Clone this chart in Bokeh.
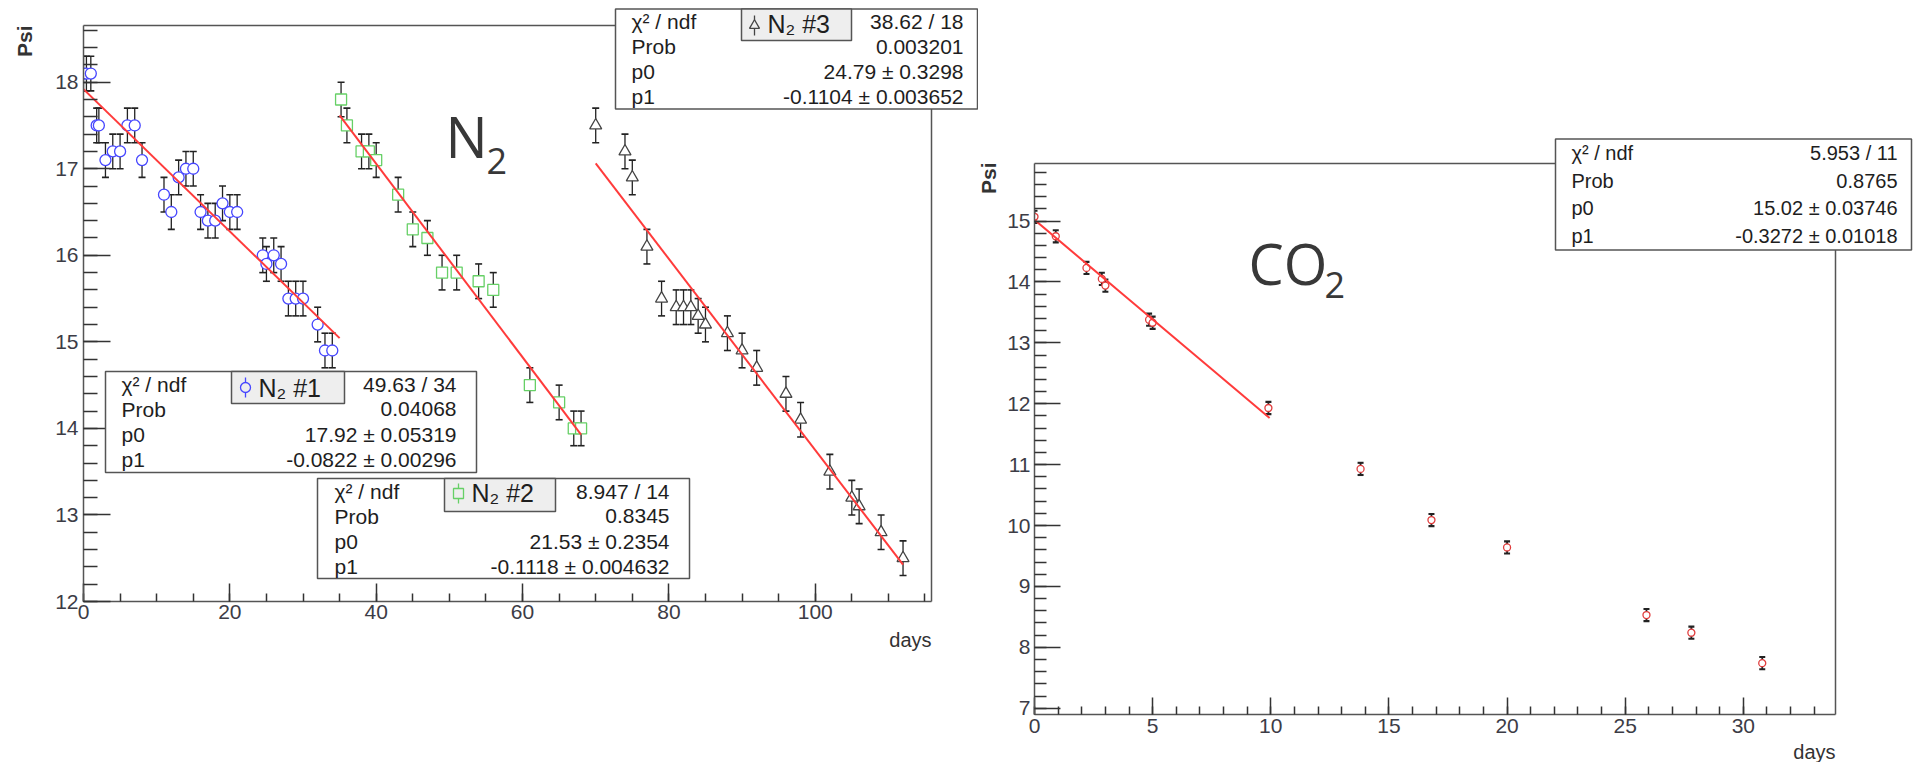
from math import pi
import numpy as np
from bokeh.plotting import figure
from bokeh.models import Range1d, FixedTicker, LinearAxis, ColumnDataSource
from bokeh.core.properties import value
from bokeh.layouts import row
from bokeh.embed import file_html
from bokeh.resources import INLINE

# ---------------- data ----------------
n2_1_days = [0, 0.4, 1, 1.8, 2.1, 3, 4, 5, 6, 7, 8, 11, 12, 13, 14, 15, 16, 17, 18,
             19, 20, 21, 24.5, 25, 26, 27, 28, 29, 30, 32, 33, 34]
n2_1_psi = [18.1, 18.1, 18.1, 17.5, 17.5, 17.1, 17.2, 17.2, 17.5, 17.5, 17.1, 16.7,
            16.5, 16.9, 17.0, 17.0, 16.5, 16.4, 16.4, 16.6, 16.5, 16.5, 16.0, 15.9,
            16.0, 15.9, 15.5, 15.5, 15.5, 15.2, 14.9, 14.9]
n2_2_days = [35.2, 36, 38, 39, 40, 43, 45, 47, 49, 51, 54, 56, 61, 65, 67, 68]
n2_2_psi = [17.8, 17.5, 17.2, 17.2, 17.1, 16.7, 16.3, 16.2, 15.8, 15.8, 15.7, 15.6,
            14.5, 14.3, 14.0, 14.0]
n2_3_days = [70, 74, 75, 77, 79, 81, 82, 83, 84, 85, 88, 90, 92, 96, 98, 102, 105,
             106, 109, 112]
n2_3_psi = [17.5, 17.2, 16.9, 16.1, 15.5, 15.4, 15.4, 15.4, 15.3, 15.2, 15.1, 14.9,
            14.7, 14.4, 14.1, 13.5, 13.2, 13.1, 12.8, 12.5]
n2_err = 0.2

co2_days = [0, 0.9, 2.2, 2.85, 3.0, 4.85, 5.0, 9.9, 13.8, 16.8, 20.0, 25.9, 27.8, 30.8]
co2_psi = [15.07, 14.75, 14.23, 14.05, 13.94, 13.38, 13.33, 11.93, 10.93, 10.09, 9.64,
           8.53, 8.24, 7.74]
co2_err = 0.1

# fits: (p0, p1, x_from, x_to)
fit_n2_1 = (17.92, -0.0822, 0.0, 35.0)
fit_n2_2 = (21.53, -0.1118, 35.0, 68.0)
fit_n2_3 = (24.79, -0.1104, 70.0, 112.0)
fit_co2 = (15.02, -0.3272, 0.0, 9.95)

stat_names = ["\u03c7\u00b2 / ndf", "Prob", "p0", "p1"]
stats_n2_1 = ["49.63 / 34", "0.04068", "17.92 \u00b1 0.05319", "-0.0822 \u00b1 0.00296"]
stats_n2_2 = ["8.947 / 14", "0.8345", "21.53 \u00b1 0.2354", "-0.1118 \u00b1 0.004632"]
stats_n2_3 = ["38.62 / 18", "0.003201", "24.79 \u00b1 0.3298", "-0.1104 \u00b1 0.003652"]
stats_co2 = ["5.953 / 11", "0.8765", "15.02 \u00b1 0.03746", "-0.3272 \u00b1 0.01018"]

left_xticks = [0, 20, 40, 60, 80, 100]
left_yticks = [12, 13, 14, 15, 16, 17, 18]
right_xticks = [0, 5, 10, 15, 20, 25, 30]
right_yticks = [7, 8, 9, 10, 11, 12, 13, 14, 15]

# ---------------- geometry ----------------
FONT = "Liberation Sans"
TXT = "#1e1e1e"
TICKLBL = "#3c3c46"
FRAME = "#555555"
H = 762
SPLIT = 978

# left plot frame (page px): left 83, right 931, top 25, bottom 601
XL1 = 115.89
YL0, YL1 = 12.0, 18.655
# right plot frame: left 1034, right 1835, top 163, bottom 714
XR1 = 33.9
YR0, YR1 = 6.897, 15.945


def lx(X):
    return (X - 83) * XL1 / 848.0


def ly(Y):
    return YL0 + (601 - Y) * (YL1 - YL0) / 576.0


def rx(X):
    return (X - 1034) * XR1 / 801.0


def ry(Y):
    return YR0 + (714 - Y) * (YR1 - YR0) / 551.0


def make_fig(width, mbl, mbr, mbt, mbb, xr, yr):
    p = figure(width=width, height=H, output_backend="svg", toolbar_location=None,
               tools="", x_range=Range1d(*xr), y_range=Range1d(*yr),
               min_border_left=mbl, min_border_right=mbr, min_border_top=mbt,
               min_border_bottom=mbb, frame_align=False)
    p.xgrid.visible = False
    p.ygrid.visible = False
    p.outline_line_color = None
    p.background_fill_color = "white"
    p.border_fill_color = "white"
    return p


def style_axis(ax, ticks, minor, tin, mtin, standoff):
    ax.ticker = FixedTicker(ticks=ticks, minor_ticks=minor)
    ax.major_tick_in = tin
    ax.major_tick_out = 0
    ax.minor_tick_in = mtin
    ax.minor_tick_out = 0
    ax.major_tick_line_color = "#333333"
    ax.major_tick_line_width = 1.5
    ax.minor_tick_line_color = "#333333"
    ax.minor_tick_line_width = 1.5
    ax.axis_line_color = FRAME
    ax.axis_line_width = 1.5
    ax.major_label_text_font = FONT
    ax.major_label_text_font_size = "21px"
    ax.major_label_text_color = TICKLBL
    ax.major_label_standoff = standoff


def frame_axes(p):
    for loc in ("above", "right"):
        ax = LinearAxis(ticker=FixedTicker(ticks=[]), major_label_text_font_size="0px",
                        major_tick_line_color=None, minor_tick_line_color=None,
                        axis_line_color=FRAME, axis_line_width=1.5,
                        major_label_standoff=0, major_tick_in=0, major_tick_out=0,
                        minor_tick_in=0, minor_tick_out=0)
        p.add_layout(ax, loc)


def series(p, days, psi, err, marker, color, size, cap, bar_w=1.3):
    src = ColumnDataSource(dict(x=days, y=psi,
                                lo=[v - err for v in psi], hi=[v + err for v in psi]))
    p.segment(x0="x", y0="lo", x1="x", y1="hi", source=src, line_color="#222222",
              line_width=bar_w)
    p.scatter("x", "lo", marker="dash", size=cap, source=src, line_color="#222222",
              line_width=bar_w + 0.3)
    p.scatter("x", "hi", marker="dash", size=cap, source=src, line_color="#222222",
              line_width=bar_w + 0.3)
    p.scatter("x", "y", marker=marker, size=size, source=src, line_color=color,
              fill_color="white", line_width=1.3)


def fit_line(p, fit):
    p0, p1, a, b = fit
    p.line([a, b], [p0 + p1 * a, p0 + p1 * b], line_color="#ff3b3b", line_width=2)


def label(p, x, y, text, size, align="left", baseline="middle", font=FONT,
          color=TXT, angle=0.0, style="normal"):
    p.text(x=[x], y=[y], text=[text], text_font=value(font), text_font_size=size,
           text_align=align, text_baseline=baseline, text_color=color, angle=angle,
           text_font_style=style, level="overlay")


def box(p, fx, fy, L, T, R, B, fill):
    p.quad(left=[fx(L)], right=[fx(R)], top=[fy(T)], bottom=[fy(B)], fill_color=fill,
           line_color=FRAME, line_width=1.5, level="overlay")


def stats_box(p, fx, fy, L, T, R, B, values, size, lab_x, val_x):
    box(p, fx, fy, L, T, R, B, "white")
    h = (B - T) / 4.0
    for i, (name, val) in enumerate(zip(stat_names, values)):
        yc = T + h * (i + 0.5)
        label(p, fx(lab_x), fy(yc), name, size)
        label(p, fx(val_x), fy(yc), val, size, align="right")


def title_box(p, fx, fy, L, T, R, B, text, tx, ty, mx, my, marker, color):
    box(p, fx, fy, L, T, R, B, "#eeeeee")
    label(p, fx(tx), fy(ty), text, "25px")
    p.segment(x0=[fx(mx)], y0=[fy(my - 10)], x1=[fx(mx)], y1=[fy(my + 10)],
              line_color=color, line_width=1.3, level="overlay")
    p.scatter(x=[fx(mx)], y=[fy(my)], marker=marker, size=10, line_color=color,
              fill_color="#eeeeee", line_width=1.3, level="overlay")


# ---------------- left figure (N2) ----------------
pl = make_fig(SPLIT, 83, SPLIT - 931, 25, H - 601, (0, XL1), (YL0, YL1))
style_axis(pl.below[0], left_xticks, list(range(0, 116, 5)), 18, 8, 3)
style_axis(pl.left[0], left_yticks, [round(v, 1) for v in np.arange(12, 18.7, 0.2)],
           27, 14, 5)
frame_axes(pl)

series(pl, n2_1_days, n2_1_psi, n2_err, "circle", "#4646ff", 11, 7)
series(pl, n2_2_days, n2_2_psi, n2_err, "square", "#66d066", 11, 7)
series(pl, n2_3_days, n2_3_psi, n2_err, "triangle", "#444444", 12, 7)
fit_line(pl, fit_n2_1)
fit_line(pl, fit_n2_2)
fit_line(pl, fit_n2_3)

label(pl, lx(24), ly(25), "Psi", "21px", align="right", color="#333333", angle=pi / 2,
      style="bold")
label(pl, lx(931), ly(639), "days", "20px", align="right", color="#333333")
label(pl, lx(445), ly(135), "N", "56px", font="Open Sans", color="#383838")
label(pl, lx(486), ly(160), "2", "36px", font="Open Sans", color="#383838")

stats_box(pl, lx, ly, 105, 371, 476, 472, stats_n2_1, "21px", 121, 456)
title_box(pl, lx, ly, 231, 371, 344, 403, "N\u2082 #1", 258, 387, 245, 387,
          "circle", "#4646ff")
stats_box(pl, lx, ly, 317, 478, 689, 578, stats_n2_2, "21px", 334, 669)
title_box(pl, lx, ly, 444, 478, 555, 511, "N\u2082 #2", 471, 492, 458, 493,
          "square", "#66d066")
stats_box(pl, lx, ly, 615, 8.5, 977, 108.5, stats_n2_3, "21px", 631, 963)
title_box(pl, lx, ly, 741, 8.5, 851, 40, "N\u2082 #3", 767, 23, 754, 25,
          "triangle", "#444444")

# ---------------- right figure (CO2) ----------------
WR = 1913 - SPLIT
pr = make_fig(WR, 1034 - SPLIT, 1913 - 1835, 163, H - 714, (0, XR1), (YR0, YR1))
style_axis(pr.below[0], right_xticks, list(range(0, 34)), 17, 8, 4)
style_axis(pr.left[0], right_yticks, [round(v, 1) for v in np.arange(7.0, 15.95, 0.2)],
           26, 12, 4)
frame_axes(pr)

series(pr, co2_days, co2_psi, co2_err, "circle", "#e03c3c", 7, 6, bar_w=1.8)
fit_line(pr, fit_co2)

label(pr, rx(988), ry(162), "Psi", "21px", align="right", color="#333333", angle=pi / 2,
      style="bold")
label(pr, rx(1835), ry(751), "days", "20px", align="right", color="#333333")
label(pr, rx(1248), ry(262), "CO", "56px", font="Open Sans", color="#383838")
label(pr, rx(1324), ry(284), "2", "36px", font="Open Sans", color="#383838")

stats_box(pr, rx, ry, 1555, 138.5, 1911, 249.5, stats_co2, "20px", 1571, 1897)

layout = row(pl, pr)
open("out.html", "w").write(file_html(layout, INLINE))
